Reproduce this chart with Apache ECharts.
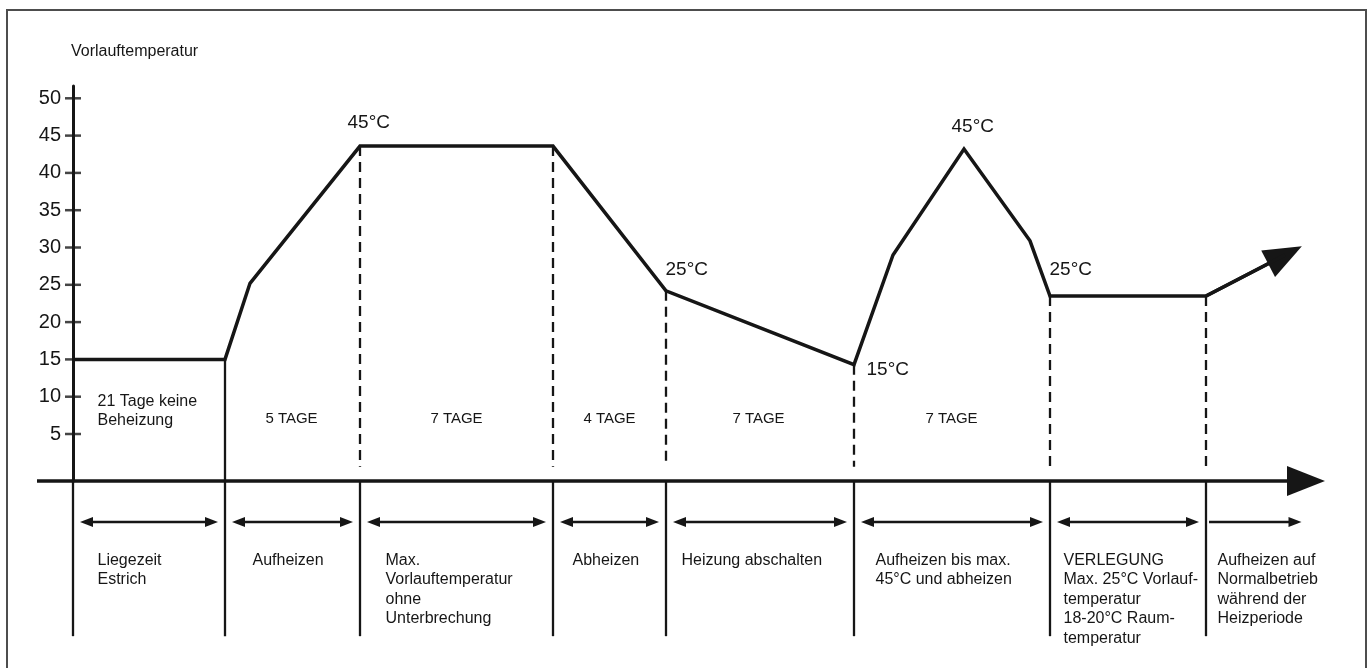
<!DOCTYPE html>
<html>
<head>
<meta charset="utf-8">
<title>Aufheizprotokoll Estrich</title>
<script src="https://cdn.jsdelivr.net/npm/echarts@6/dist/echarts.min.js"></script>
<style>
  html, body { margin: 0; padding: 0; background: #fff; overflow: hidden; }
  #frame { position: absolute; left: 6px; top: 9px; width: 1361px; height: 700px; border: 2px solid #4d4d4d; box-sizing: border-box; }
  #chart { position: absolute; left: 0; top: 0; width: 1371px; height: 668px; }
</style>
</head>
<body>
<div id="frame"></div>
<div id="chart"></div>
<script>
// Zeitachse in Zeichnungseinheiten (nicht tagesgenau)
const phaseBounds = [0, 15.2, 28.7, 48.0, 59.3, 78.1, 97.7, 113.3];

// Vorlauftemperatur-Verlauf
const curveX = [0, 15.2, 17.7, 28.7, 48.0, 59.3, 78.1, 82.0, 89.1, 95.7, 97.7, 113.3, 121.2];
const curveY = [15, 15, 25.2, 43.6, 43.6, 24.2, 14.3, 29.0, 43.2, 30.9, 23.5, 23.5, 29.0];

// gestrichelte Hilfslinien: Oberkante je Phasengrenze (ab Index 2)
const dashedTop = [43.6, 43.6, 24.2, 14.3, 23.5, 23.5];

const tempTicks = [5, 10, 15, 20, 25, 30, 35, 40, 45, 50];

const spanText = ['21 Tage keine\nBeheizung', '5 TAGE', '7 TAGE', '4 TAGE', '7 TAGE', '7 TAGE'];
const spanX = [2.5, 21.9, 38.4, 53.7, 68.6, 87.9];
const spanY = [7.95, 7.0, 7.0, 7.0, 7.0, 7.0];

const peakText = ['45°C', '25°C', '15°C', '45°C', '25°C'];
const peakX = [27.5, 59.3, 79.4, 87.9, 97.7];
const peakY = [46.7, 27.0, 13.5, 46.15, 26.9];

const phaseText = [
    'Liegezeit\nEstrich',
    'Aufheizen',
    'Max.\nVorlauftemperatur\nohne\nUnterbrechung',
    'Abheizen',
    'Heizung abschalten',
    'Aufheizen bis max.\n45°C und abheizen',
    'VERLEGUNG\nMax. 25°C Vorlauf-\ntemperatur\n18-20°C Raum-\ntemperatur',
    'Aufheizen auf\nNormalbetrieb\nwährend der\nHeizperiode'
];
const phaseX = [2.5, 18.0, 31.3, 50.0, 60.9, 80.3, 99.1, 114.5];
const phaseTopY = -10.7;

const arrowRowY = -6.8;
const dividerBottom = -22.1;
const axisY = -1.3;
const axisStart = -3.6;
const lastArrowEnd = 122.2;

const ink = '#161616';
const font = "'Liberation Sans', Arial, Helvetica, sans-serif";

const chart = echarts.init(document.getElementById('chart'));

// Trennlinien unterhalb der Achse (bei 15.2 durchgezogen ab 15 °C)
const dividers = phaseBounds.map((b, i) => ({
    coords: [[b, i === 1 ? 15 : axisY], [b, dividerBottom]]
}));
const dashed = phaseBounds.slice(2).map((b, i) => ({
    coords: [[b, dashedTop[i]], [b, 0.6]]
}));
const spans = [];
for (let i = 0; i < phaseBounds.length - 1; i++) {
    spans.push({ coords: [[phaseBounds[i] + 1.35, arrowRowY], [phaseBounds[i + 1] - 1.35, arrowRowY]] });
}

const textSeries = (data, size, align, vAlign, lineHeight) => ({
    type: 'scatter',
    silent: true,
    clip: false,
    symbolSize: 1,
    itemStyle: { color: 'rgba(255,255,255,0)' },
    data: data,
    label: {
        show: true,
        formatter: '{b}',
        position: [0, 0],
        align: align,
        verticalAlign: vAlign,
        fontSize: size,
        lineHeight: lineHeight,
        fontFamily: font,
        color: ink,
        opacity: 1,
        textBorderWidth: 0,
        textShadowBlur: 0
    }
});

chart.setOption({
    animation: false,
    grid: { left: 73, right: 65, top: 86, bottom: 187, outerBoundsMode: 'none' },
    xAxis: {
        type: 'value',
        min: 0,
        max: 123.3,
        axisLine: {
            onZero: false,
            symbol: ['none', 'triangle'],
            symbolSize: [30, 38],
            lineStyle: { color: ink, width: 3.5 }
        },
        axisTick: { show: false },
        axisLabel: { show: false },
        splitLine: { show: false }
    },
    yAxis: {
        type: 'value',
        min: axisY,
        max: 51.65,
        name: 'Vorlauftemperatur',
        nameLocation: 'end',
        nameGap: 26,
        nameTextStyle: { align: 'left', verticalAlign: 'bottom', fontSize: 16, fontFamily: font, color: ink, padding: [0, 0, 0, -2] },
        axisLine: { onZero: false, lineStyle: { color: ink, width: 3 } },
        axisTick: { show: false },
        axisLabel: { customValues: tempTicks, fontSize: 20, margin: 12, fontFamily: font, color: ink },
        splitLine: { show: false }
    },
    series: [
        {
            type: 'line',
            silent: true,
            showSymbol: false,
            data: curveX.map((x, i) => [x, curveY[i]]),
            lineStyle: { color: ink, width: 3.5, join: 'miter' },
            z: 5
        },
        {
            type: 'lines',
            coordinateSystem: 'cartesian2d',
            silent: true,
            clip: false,
            symbol: ['none', 'triangle'],
            symbolSize: [0, [30, 38]],
            lineStyle: { color: ink, width: 3.5, opacity: 1 },
            data: [{ coords: [[curveX[curveX.length - 2], curveY[curveY.length - 2]], [curveX[curveX.length - 1], curveY[curveY.length - 1]]] }],
            z: 5
        },
        {
            // Zeitachse links der Temperaturachse
            type: 'lines',
            coordinateSystem: 'cartesian2d',
            silent: true,
            clip: false,
            lineStyle: { color: ink, width: 3.5, opacity: 1 },
            data: [{ coords: [[axisStart, axisY], [0, axisY]] }]
        },
        {
            type: 'lines',
            coordinateSystem: 'cartesian2d',
            silent: true,
            clip: false,
            lineStyle: { color: ink, width: 2.3, opacity: 1, type: [10, 6] },
            data: dashed
        },
        {
            type: 'lines',
            coordinateSystem: 'cartesian2d',
            silent: true,
            clip: false,
            lineStyle: { color: ink, width: 2.3, opacity: 1 },
            data: dividers
        },
        {
            type: 'lines',
            coordinateSystem: 'cartesian2d',
            silent: true,
            clip: false,
            symbol: ['triangle', 'triangle'],
            symbolSize: [[10, 13], [10, 13]],
            lineStyle: { color: ink, width: 2.3, opacity: 1 },
            data: spans
        },
        {
            type: 'lines',
            coordinateSystem: 'cartesian2d',
            silent: true,
            clip: false,
            symbol: ['none', 'triangle'],
            symbolSize: [0, [10, 13]],
            lineStyle: { color: ink, width: 2.3, opacity: 1 },
            data: [{ coords: [[phaseBounds[phaseBounds.length - 1] + 0.3, arrowRowY], [lastArrowEnd, arrowRowY]] }]
        },
        {
            type: 'scatter',
            silent: true,
            clip: false,
            symbol: 'rect',
            symbolSize: [16, 2.5],
            itemStyle: { color: ink },
            data: tempTicks.map(v => [0, v])
        },
        textSeries(spanText.map((t, i) => ({
            value: [spanX[i], spanY[i]], name: t,
            label: i === 0 ? { align: 'left', fontSize: 16 } : {}
        })), 15, 'center', 'middle', 19),
        textSeries(peakText.map((t, i) => ({ value: [peakX[i], peakY[i]], name: t })), 19, 'left', 'middle', 22),
        textSeries(phaseText.map((t, i) => ({ value: [phaseX[i], phaseTopY], name: t })), 16, 'left', 'top', 19.5)
    ]
});
</script>
</body>
</html>
